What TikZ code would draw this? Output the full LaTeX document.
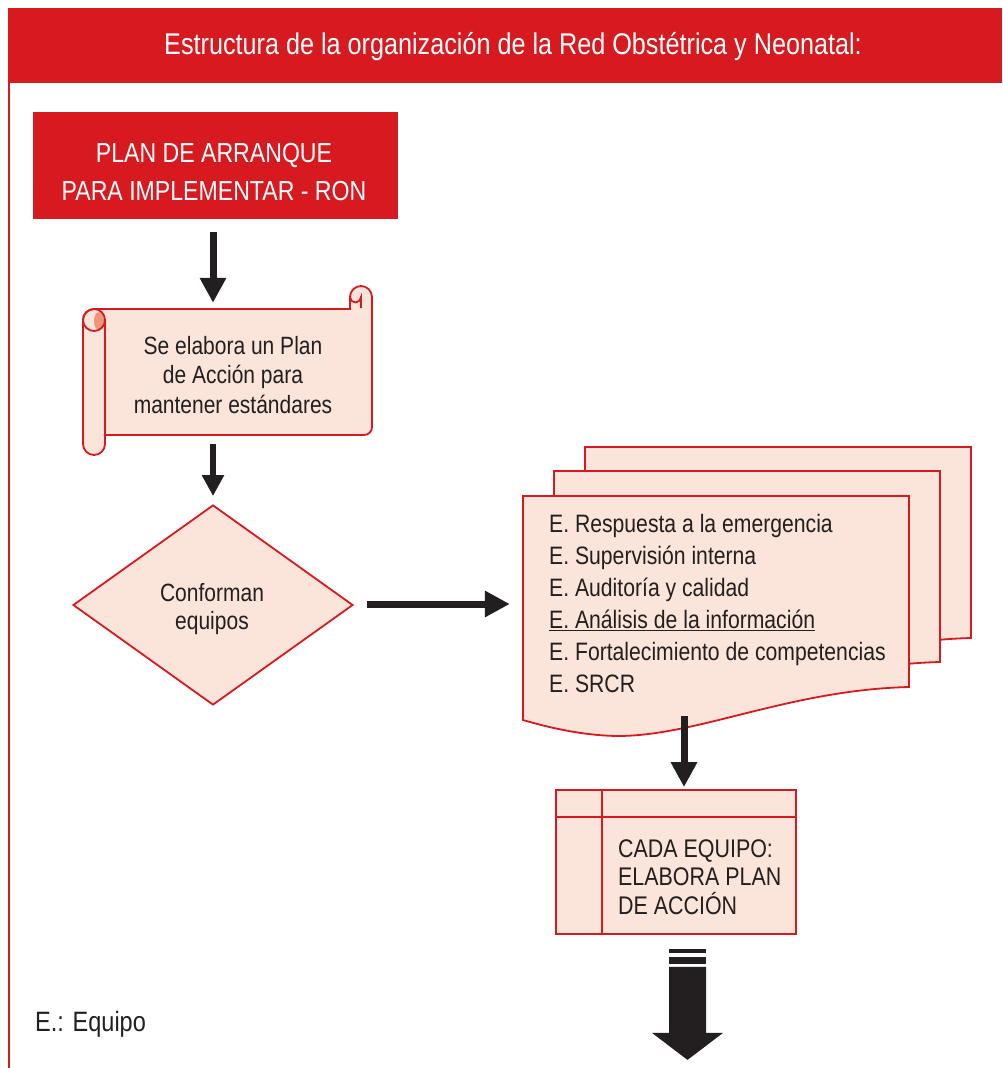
\documentclass[tikz,border=0pt]{standalone}
\usepackage{fontspec}
\setmainfont{Liberation Sans}[FakeStretch=0.84]
\usetikzlibrary{shapes.geometric,arrows.meta,calc}
\definecolor{ronred}{HTML}{D71920}
\definecolor{ronpink}{HTML}{FBE4DA}
\definecolor{rontext}{HTML}{231F20}
\definecolor{ronsalmon}{HTML}{E9967A}
\begin{document}
\begin{tikzpicture}[x=1pt,y=-1pt,
  redline/.style={draw=ronred,line width=1.8pt},
  pinkbox/.style={redline,fill=ronpink},
  bigarrow/.style={draw=rontext,line width=7pt,-{Triangle[width=25pt,length=25pt]}},
  midarrow/.style={draw=rontext,line width=6pt,-{Triangle[width=21pt,length=21pt]}},
  txt/.style={text=rontext,inner sep=0pt}
]
\useasboundingbox (0,0) rectangle (1002,1068);
\fill[white] (0,0) rectangle (1002,1068);

% title bar
\node[fill=ronred, minimum width=994pt, minimum height=75pt, anchor=north west, inner sep=0pt] (title) at (8,8) {};
\node[text=white, inner sep=0pt, font=\fontsize{30}{34}\selectfont] (titletxt) at (513,47)
      {Estructura de la organización de la Red Obstétrica y Neonatal:};
\draw[ronred,line width=2pt] ([xshift=1pt]title.south west) -- (9,1068);

% start box
\node[fill=ronred, minimum width=365pt, minimum height=107pt, inner sep=0pt] (plan) at (215.5,165.5) {};
\node[text=white, inner sep=0pt, align=center, font=\fontsize{27.5}{38}\selectfont] (plantxt) at (214,172)
      {PLAN DE ARRANQUE\\PARA IMPLEMENTAR - RON};

% scroll
\path[pinkbox] (83,320) arc(180:270:11) -- (350,309) -- (350,297) arc(180:360:11)
  -- (372,427) arc(0:90:8) -- (105,435) -- (105,444) arc(0:180:11) -- cycle;
\fill[ronsalmon] (99,321) ellipse (5 and 9);
\draw[redline] (94,320) circle (11);
\draw[redline] (105,320) -- (105,444);
\draw[redline] (350,297) arc(180:0:5.5) -- (361,308);
\node[minimum width=289pt, minimum height=127pt, inner sep=0pt] (scroll) at (227.5,371.5) {};
\node[txt, align=center, font=\fontsize{25}{29.5}\selectfont] (scrolltxt) at (233,375)
      {Se elabora un Plan\\de Acción para\\mantener estándares};

% diamond
\node[diamond, pinkbox, minimum width=280pt, minimum height=200pt, inner sep=0pt, aspect=1.4] (diam) at (213,605) {};
\node[txt, align=center, font=\fontsize{25}{28}\selectfont] (diamtxt) at (212,609) {Conforman\\equipos};

% multi-document
\begin{scope}[shift={(585,447)}]
\path[pinkbox] (0,0) -- (386,0) -- (386,191) .. controls (267,194) and (177,239) .. (97,240)
  .. controls (57,240) and (17,229) .. (0,224) -- cycle;
\end{scope}
\begin{scope}[shift={(554,471)}]
\path[pinkbox] (0,0) -- (386,0) -- (386,191) .. controls (267,194) and (177,239) .. (97,240)
  .. controls (57,240) and (17,229) .. (0,224) -- cycle;
\end{scope}
\begin{scope}[shift={(523,496)}]
\path[pinkbox] (0,0) -- (386,0) -- (386,191) .. controls (267,194) and (177,239) .. (97,240)
  .. controls (57,240) and (17,229) .. (0,224) -- cycle;
\end{scope}
\node[minimum width=386pt, minimum height=224pt, inner sep=0pt] (docs) at (716,608) {};
\node[txt, align=left, anchor=west, font=\fontsize{25.2}{32}\selectfont] (doctxt) at (549,603.5)
  {E. Respuesta a la emergencia\\
   E. Supervisión interna\\
   E. Auditoría y calidad\\
   \underline{E. Análisis de la información}\\
   E. Fortalecimiento de competencias\\
   E. SRCR};

% storage box
\node[pinkbox, minimum width=240pt, minimum height=144pt, inner sep=0pt] (store) at (676,862) {};
\draw[redline] ($(store.north west)+(47,0)$) -- ($(store.south west)+(47,0)$);
\draw[redline] ($(store.north west)+(0,28)$) -- ($(store.north east)+(0,28)$);
\node[txt, anchor=west, align=left, font=\fontsize{25.5}{28.5}\selectfont] (storetxt) at (618,877)
  {CADA EQUIPO:\\ELABORA PLAN\\DE ACCIÓN};

% connectors
\draw[bigarrow] ($(plan.south -| diam.north)+(0,13)$) -- ($(scroll.north -| diam.north)+(0,-5)$);
\draw[midarrow] ($(scroll.south -| diam.north)+(0,9)$) -- ($(diam.north)+(0,-8)$);
\draw[bigarrow] ($(diam.east)+(13,-1)$) -- ($(docs.west |- diam.east)+(-13,-1)$);
\draw[bigarrow] ($(store.north)+(8,-73)$) -- ($(store.north)+(8,-2)$);

% final block arrow
\coordinate (fa) at ($(store.south)+(11.5,0)$);
\fill[rontext] ($(fa)+(-18.5,14)$) rectangle ($(fa)+(18.5,18)$);
\fill[rontext] ($(fa)+(-18.5,22)$) rectangle ($(fa)+(18.5,29)$);
\fill[rontext] ($(fa)+(-18.5,32)$) -- ($(fa)+(18.5,32)$) -- ($(fa)+(18.5,98)$) -- ($(fa)+(35.5,98)$)
  -- ($(fa)+(0,125)$) -- ($(fa)+(-35.5,98)$) -- ($(fa)+(-18.5,98)$) -- cycle;

% legend
\node[txt, anchor=west, font=\fontsize{28}{30}\selectfont] (legend) at (35,1024) {E.: Equipo};
\end{tikzpicture}
\end{document}
